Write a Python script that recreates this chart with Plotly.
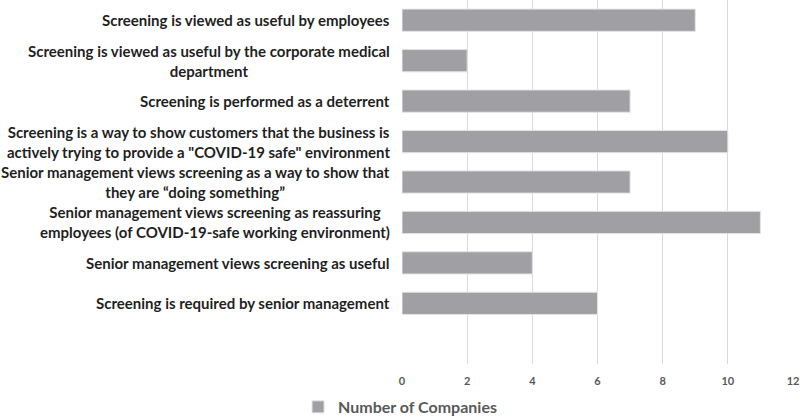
import plotly.graph_objects as go

LABEL_COLOR = "#1f1f1f"
AXIS_COLOR = "#595959"
BAR_COLOR = "#a0a0a4"
GRID = "#d9d9d9"

categories = [
    "Screening is viewed as useful by employees",
    "Screening is viewed as useful by the corporate medical<br>department",
    "Screening is performed as a deterrent",
    "Screening is a way to show customers that the business is<br>actively trying to provide a \"COVID-19 safe\" environment",
    "Senior management views screening as a way to show that<br>they are \u201cdoing something\u201d",
    "Senior management views screening as reassuring<br>employees (of COVID-19-safe working environment)",
    "Senior management views screening as useful",
    "Screening is required by senior management",
]
companies = [9, 2, 7, 10, 7, 11, 4, 6]
x_ticks = [0, 2, 4, 6, 8, 10, 12]

fig = go.Figure()
fig.add_trace(
    go.Bar(
        x=companies,
        y=list(range(len(categories))),
        orientation="h",
        name="Number of Companies",
        width=0.55,
        marker=dict(color=BAR_COLOR, line=dict(color="#e3e3e3", width=1)),
    )
)

# category labels as annotations so multi-line text stays centred
for i, label in enumerate(categories):
    fig.add_annotation(
        x=0,
        y=i,
        xref="paper",
        yref="y",
        text=label,
        showarrow=False,
        xanchor="right",
        yanchor="middle",
        align="center",
        xshift=-10,
        font=dict(family="Lato", size=15, color=LABEL_COLOR, weight="bold"),
    )

fig.update_layout(
    width=800,
    height=417,
    paper_bgcolor="white",
    plot_bgcolor="white",
    margin=dict(l=402, r=7, t=0, b=53, autoexpand=False),
    showlegend=True,
    legend=dict(
        orientation="h",
        x=-0.005,
        xanchor="center",
        y=-0.118,
        yanchor="middle",
        font=dict(family="Lato", size=16, color=AXIS_COLOR, weight="bold"),
    ),
    xaxis=dict(
        range=[0, 12],
        tickvals=x_ticks,
        showgrid=True,
        gridcolor=GRID,
        gridwidth=1,
        zeroline=False,
        showline=False,
        automargin=False,
        tickfont=dict(family="Lato", size=11, color=AXIS_COLOR, weight="bold"),
        ticks="",
        ticklabelstandoff=9,
    ),
    yaxis=dict(
        range=[8.5, -0.5],
        showticklabels=False,
        showgrid=False,
        zeroline=False,
        showline=False,
    ),
)

fig.write_html(
    "out.html",
    config={"displayModeBar": False},
    post_script="document.body.style.margin='0';",
)
